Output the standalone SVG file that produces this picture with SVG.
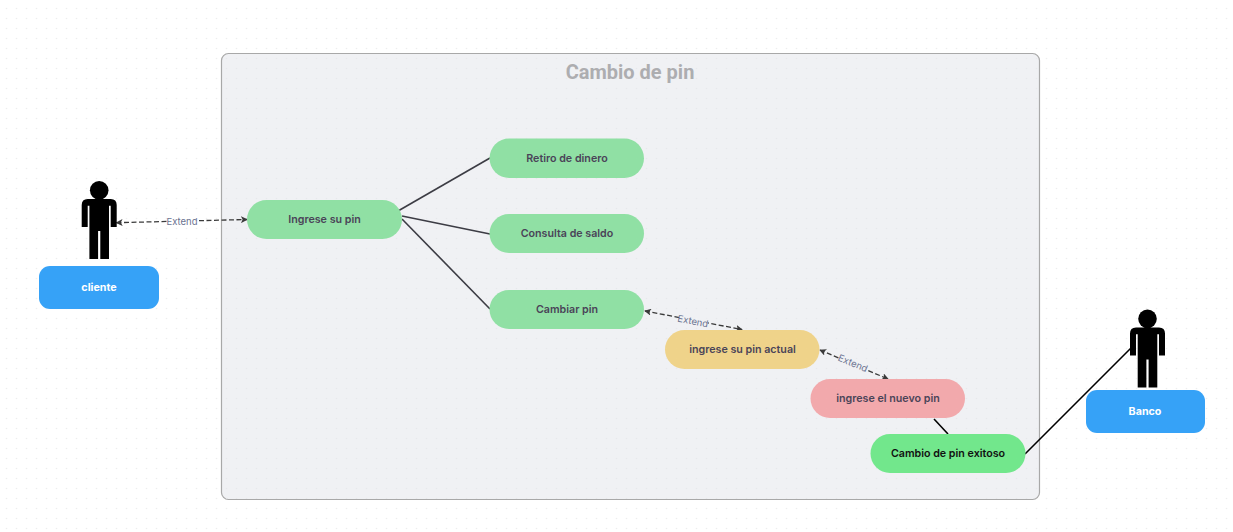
<svg xmlns="http://www.w3.org/2000/svg" width="1233" height="532" viewBox="0 0 1233 532">
<style>
.n{font-family:"Inter","Liberation Sans",sans-serif;font-size:10.700px;font-weight:600;fill:#4a4458;text-anchor:middle;dominant-baseline:central}
.w{fill:#fff;font-weight:700}
.e{font-family:"Inter","Liberation Sans",sans-serif;font-size:9.500px;fill:#6b7391;text-anchor:middle;dominant-baseline:central}
.d{fill:none;stroke:#3a3a3a;stroke-width:1.300;stroke-dasharray:5 2.500;marker-start:url(#a);marker-end:url(#a)}
.s{fill:none;stroke:#3c3c44;stroke-width:1.600}
.k{fill:none;stroke:#000;stroke-width:1.600}
</style>
<defs>
<pattern id="dots" width="10" height="10" patternUnits="userSpaceOnUse"><circle cx="6.500" cy="8.500" r="0.800" fill="#eceded"/></pattern>
<pattern id="dots2" width="10" height="10" patternUnits="userSpaceOnUse"><circle cx="6.500" cy="8.500" r="0.800" fill="#e6e7ea"/></pattern>
<marker id="a" viewBox="0 0 8 8" refX="7" refY="4" markerWidth="7" markerHeight="7" markerUnits="userSpaceOnUse" orient="auto-start-reverse"><path d="M0 0L8 4L0 8L2 4Z" fill="#3a3a3a"/></marker>
<symbol id="p" viewBox="0 0 35 78" overflow="visible"><circle cx="17.500" cy="9.300" r="9.300"/><path d="M6 18H29Q35 18 35 24V46H29V24.700H27.300V78H18.600V50H16.400V78H7.700V24.700H6V46H0V24Q0 18 6 18Z"/></symbol>
</defs>
<rect width="1233" height="532" fill="#fff"/>
<rect width="1233" height="532" fill="url(#dots)"/>
<g id="sistema">
<rect x="221.500" y="53.500" width="818" height="446" rx="7" fill="#f0f1f4" stroke="#a8a8a8" stroke-width="1.200"/>
<rect x="222" y="54" width="817" height="445" rx="7" fill="url(#dots2)"/>
<text x="630" y="72" font-family="Roboto,'Liberation Sans',sans-serif" font-size="20" font-weight="700" fill="#adadb0" text-anchor="middle" dominant-baseline="central">Cambio de pin</text>
</g>
<g id="connectors">
<path class="d" d="M116.500 222.700L247 219.500"/>
<path class="d" d="M645 311L742 329.500"/>
<path class="d" d="M820 350L888 379"/>
<path class="s" d="M398 211L490 158"/>
<path class="s" d="M402 216L490 234"/>
<path class="s" d="M402 219L490 309"/>
<path class="k" d="M934 419L948 434"/>
<path class="k" d="M1025 454L1131 348"/>
<rect x="167" y="216" width="30" height="10" fill="#fff"/>
<text class="e" x="182" y="221">Extend</text>
<g transform="rotate(11 693 321)"><rect x="679" y="316" width="29" height="10" fill="#f0f1f4"/><text class="e" x="693" y="321">Extend</text></g>
<g transform="rotate(23 853 363)"><rect x="839" y="358" width="29" height="10" fill="#f0f1f4"/><text class="e" x="853" y="363">Extend</text></g>
</g>
<g id="actor-cliente"><use href="#p" x="81.700" y="181" width="35" height="78"/><rect x="39" y="266" width="120" height="43" rx="11" fill="#36a2f7"/><text class="n w" x="99" y="287">cliente</text></g>
<g id="actor-banco"><use href="#p" x="1130" y="309.500" width="35" height="78"/><rect x="1086" y="390" width="119" height="43" rx="11" fill="#36a2f7"/><text class="n w" x="1145" y="411">Banco</text></g>
<g id="ingrese"><rect x="247" y="200" width="155" height="39" rx="19.500" fill="#90e0a4"/><text class="n" x="324.500" y="219.500">Ingrese su pin</text></g>
<g id="retiro"><rect x="489.500" y="138.500" width="154.500" height="39.500" rx="19.700" fill="#90e0a4"/><text class="n" x="567" y="158">Retiro de dinero</text></g>
<g id="consulta"><rect x="489.500" y="214" width="154.500" height="39" rx="19.500" fill="#90e0a4"/><text class="n" x="567" y="233">Consulta de saldo</text></g>
<g id="cambiar"><rect x="489.500" y="290" width="154.500" height="39" rx="19.500" fill="#90e0a4"/><text class="n" x="567" y="309">Cambiar pin</text></g>
<g id="actual"><rect x="665" y="330" width="154.500" height="39" rx="19.500" fill="#efd38a"/><text class="n" x="742.500" y="349">ingrese su pin actual</text></g>
<g id="nuevo"><rect x="810.500" y="379" width="154.500" height="39" rx="19.500" fill="#f2a9ac"/><text class="n" x="888" y="398">ingrese el nuevo pin</text></g>
<g id="exitoso"><rect x="870.500" y="434" width="155" height="39" rx="19.500" fill="#72e78c"/><text class="n" x="948" y="453" style="fill:#111">Cambio de pin exitoso</text></g>
</svg>
